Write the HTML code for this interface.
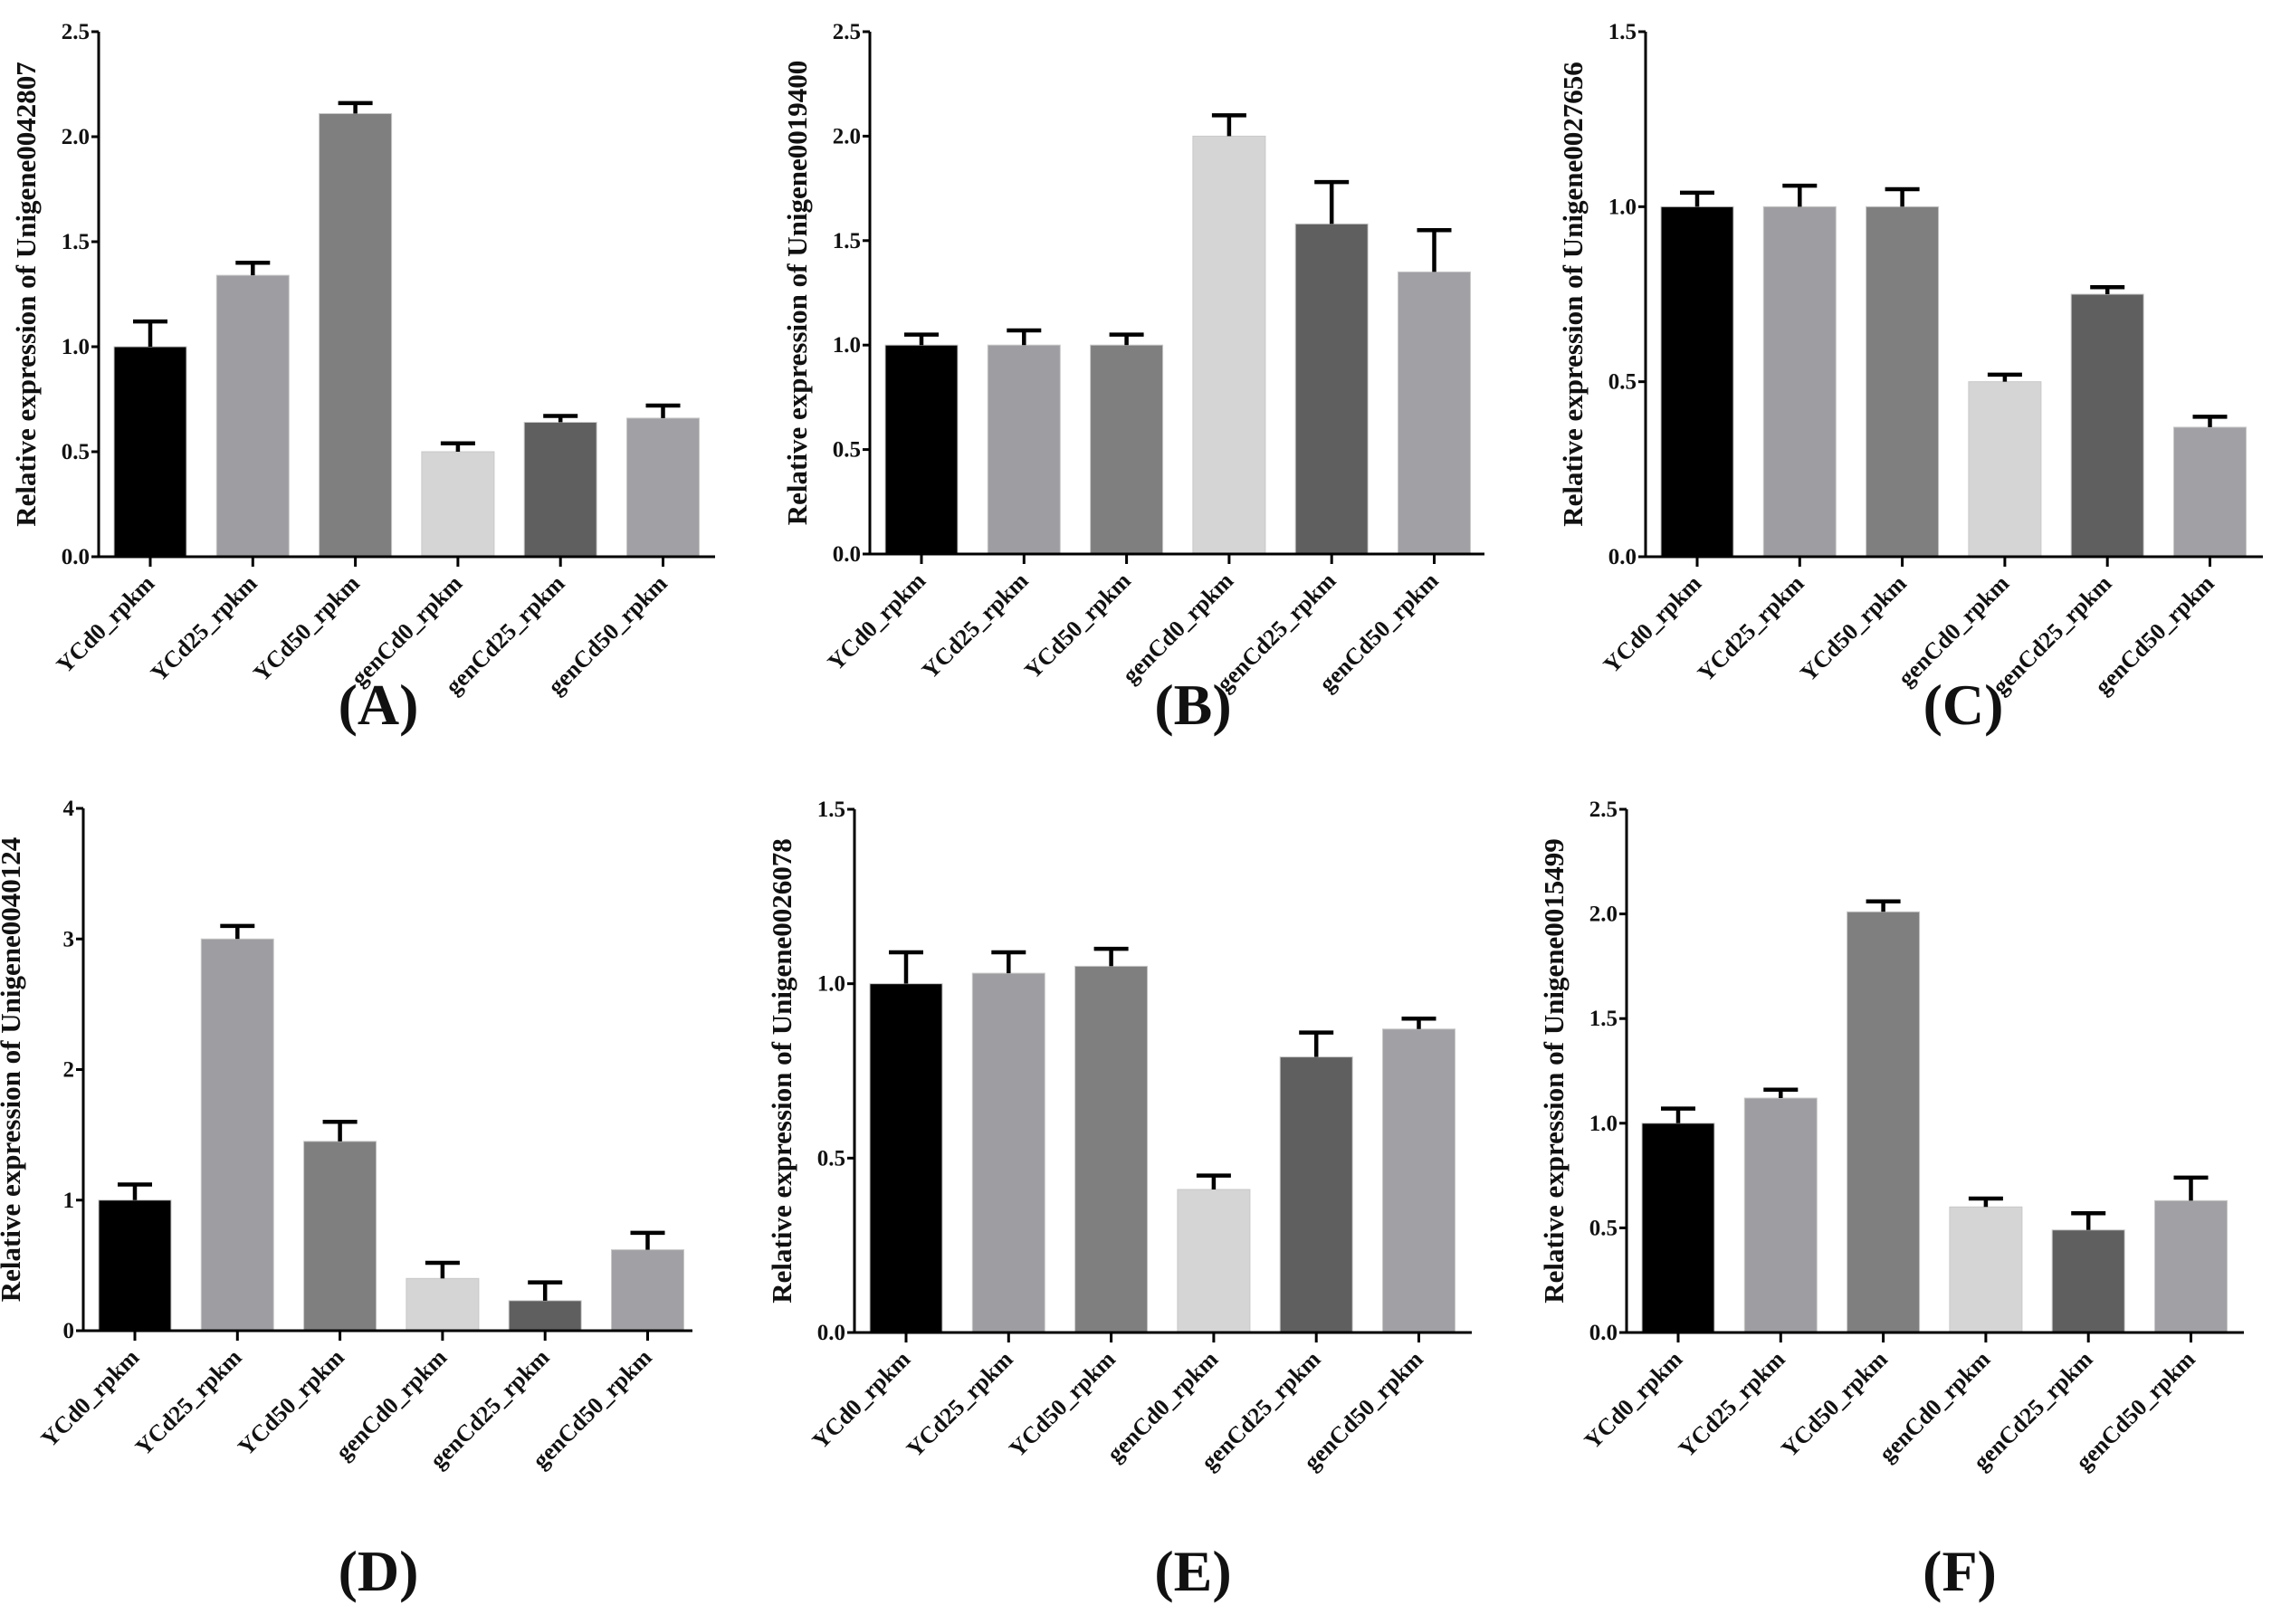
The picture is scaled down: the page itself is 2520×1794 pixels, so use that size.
<!DOCTYPE html>
<html><head><meta charset="utf-8">
<style>
html,body{margin:0;padding:0;background:#fff;}
svg{display:block;}
text{font-family:"Liberation Serif",serif;font-weight:bold;fill:#111;}
</style></head>
<body>
<svg id="fig" width="2520" height="1794" viewBox="0 0 2520 1794" xmlns="http://www.w3.org/2000/svg"></svg>
<script>
const categories = ["YCd0_rpkm","YCd25_rpkm","YCd50_rpkm","genCd0_rpkm","genCd25_rpkm","genCd50_rpkm"];
const valuesA = [1.00,1.34,2.11,0.50,0.64,0.66];
const errorsA = [1.12,1.40,2.16,0.54,0.67,0.72];
const valuesB = [1.00,1.00,1.00,2.00,1.58,1.35];
const errorsB = [1.05,1.07,1.05,2.10,1.78,1.55];
const valuesC = [1.00,1.00,1.00,0.50,0.75,0.37];
const errorsC = [1.04,1.06,1.05,0.52,0.77,0.40];
const valuesD = [1.00,3.00,1.45,0.40,0.23,0.62];
const errorsD = [1.12,3.10,1.60,0.52,0.37,0.75];
const valuesE = [1.00,1.03,1.05,0.41,0.79,0.87];
const errorsE = [1.09,1.09,1.10,0.45,0.86,0.90];
const valuesF = [1.00,1.12,2.01,0.60,0.49,0.63];
const errorsF = [1.07,1.16,2.06,0.64,0.57,0.74];
const ticksA = ["0.0","0.5","1.0","1.5","2.0","2.5"];
const ticksC = ["0.0","0.5","1.0","1.5"];
const ticksD = ["0","1","2","3","4"];
const genes = ["Unigene0042807","Unigene0019400","Unigene0027656","Unigene0040124","Unigene0026078","Unigene0015499"];
const panelLetters = ["A","B","C","D","E","F"];

const colors = ["#000000","#9e9ea2","#7f7f7f","#d5d5d5","#5f5f5f","#a1a1a5"];
const NS = "http://www.w3.org/2000/svg";
const svg = document.getElementById("fig");
function el(tag, attrs, parent){
  const e = document.createElementNS(NS, tag);
  for (const k in attrs) e.setAttribute(k, attrs[k]);
  (parent||svg).appendChild(e);
  return e;
}
const panels = [
  {ax:109, top:35, y0:615, end:790, vals:valuesA, errs:errorsA, ticks:ticksA, lx:418, ly:800},
  {ax:961, top:35, y0:612, end:1640, vals:valuesB, errs:errorsB, ticks:ticksA, lx:1318, ly:800},
  {ax:1818, top:35, y0:615, end:2500, vals:valuesC, errs:errorsC, ticks:ticksC, lx:2169, ly:800},
  {ax:92, top:893, y0:1470, end:765, vals:valuesD, errs:errorsD, ticks:ticksD, lx:418, ly:1757},
  {ax:944, top:894, y0:1472, end:1626, vals:valuesE, errs:errorsE, ticks:ticksC, lx:1318, ly:1757},
  {ax:1797, top:894, y0:1472, end:2479, vals:valuesF, errs:errorsF, ticks:ticksA, lx:2165, ly:1757}
];
panels.forEach((p, pi) => {
  const g = el("g", {});
  
  
  const ymax = parseFloat(p.ticks[p.ticks.length-1]);
  const yScale = v => p.y0 - (v / ymax) * (p.y0 - p.top);
  const xScale = i => p.ax + 57 + i * 113.3;
  p.vals.forEach((v, i) => {
    const cx = xScale(i);
    const r = el("rect", {x:cx-40, y:yScale(v), width:80, height:p.y0-yScale(v), fill:colors[i], stroke:"#c8c8c8", "stroke-width":1}, g);
    
    
    const eb = el("path", {d:`M${cx} ${yScale(v)} V${yScale(p.errs[i])} M${cx-19} ${yScale(p.errs[i])} H${cx+19}`, stroke:"#000", "stroke-width":4.5, fill:"none"}, g);
    
    
    el("line", {x1:cx, y1:p.y0, x2:cx, y2:p.y0+11, stroke:"#000", "stroke-width":3}, g);
    const t = el("text", {x:0, y:0, "font-size":26, "text-anchor":"end", transform:`translate(${cx+6},${p.y0+31}) rotate(-45)`}, g);
    t.textContent = categories[i];
    
    
  });
  const ya = el("line", {x1:p.ax, y1:p.top, x2:p.ax, y2:p.y0+1.5, stroke:"#000", "stroke-width":3}, g);
  
  
  const xa = el("line", {x1:p.ax-8, y1:p.y0, x2:p.end, y2:p.y0, stroke:"#000", "stroke-width":3}, g);
  
  
  p.ticks.forEach(tk => {
    const y = yScale(parseFloat(tk));
    el("line", {x1:p.ax-8, y1:y, x2:p.ax, y2:y, stroke:"#000", "stroke-width":3}, g);
    const t = el("text", {x:p.ax-10, y:y+8, "font-size":25, "text-anchor":"end"}, g);
    t.textContent = tk;
    
    
  });
  const ym = (p.top + p.y0) / 2;
  const yl = el("text", {x:0, y:0, "font-size":31, "text-anchor":"middle", transform:`translate(${p.ax-70},${ym}) rotate(-90)`}, g);
  yl.textContent = "Relative expression of " + genes[pi];
  
  
  const pl = el("text", {x:p.lx, y:p.ly, "font-size":64, "text-anchor":"middle", "font-weight":"normal"}, g);
  pl.innerHTML = '(<tspan font-weight="bold">' + panelLetters[pi] + '</tspan>)';
  
  
});
</script>
</body></html>
